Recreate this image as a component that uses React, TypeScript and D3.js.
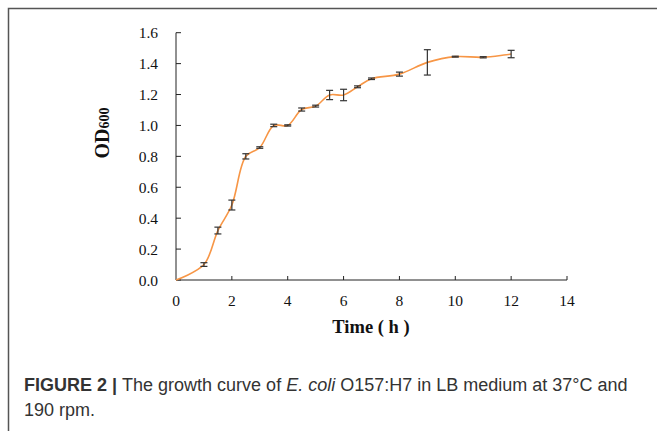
import * as d3 from "d3";

// growth curve readings
const timeH = [0, 1, 1.5, 2, 2.5, 3, 3.5, 4, 4.5, 5, 5.5, 6, 6.5, 7, 8, 9, 10, 11, 12];
const od600 = [
  0, 0.1, 0.32, 0.485, 0.8, 0.857, 1.0, 1.0, 1.103, 1.125, 1.197, 1.197, 1.25, 1.302,
  1.332, 1.408, 1.445, 1.441, 1.462,
];
const sd = [
  0, 0.012, 0.022, 0.032, 0.017, 0.005, 0.008, 0.004, 0.01, 0.006, 0.03, 0.037, 0.006,
  0.005, 0.013, 0.082, 0.003, 0.004, 0.024,
];
const xTicks = [0, 2, 4, 6, 8, 10, 12, 14];
const yTicks = [0, 0.2, 0.4, 0.6, 0.8, 1.0, 1.2, 1.4, 1.6];

const W = 657;
const H = 431;

export default function App() {
  const x = d3.scaleLinear().domain([0, 14]).range([176, 567]);
  const y = d3.scaleLinear().domain([0, 1.6]).range([280, 32.7]);

  const pts = timeH.map((t, i) => ({ t, v: od600[i], e: sd[i] }));
  const line = d3
    .line<{ t: number; v: number }>()
    .x((d) => x(d.t))
    .y((d) => y(d.v))
    .curve(d3.curveCatmullRom.alpha(0.5));

  const serif = "'Liberation Serif', 'Times New Roman', serif";
  const sans = "'Liberation Sans', Arial, sans-serif";

  return (
    <svg
      width={W}
      height={H}
      style={{ position: "absolute", left: 0, top: 0, background: "#fff" }}
    >
      {/* frame */}
      <path d={`M8.5,${H} V8.5 H${W}`} fill="none" stroke="#555" strokeWidth={1.5} />

      {/* y axis */}
      <line x1={x(0)} x2={x(0)} y1={y(0)} y2={y(1.6)} stroke="#222" strokeWidth={1} />
      {yTicks.map((t) => (
        <g key={"y" + t}>
          <line x1={x(0)} x2={x(0) + 5} y1={y(t)} y2={y(t)} stroke="#222" strokeWidth={1} />
          <text
            x={158}
            y={y(t) + 5.5}
            textAnchor="end"
            fontFamily={serif}
            fontSize={15.5}
            fill="#111"
          >
            {t.toFixed(1)}
          </text>
        </g>
      ))}

      {/* x axis */}
      <line x1={x(0)} x2={x(14)} y1={y(0)} y2={y(0)} stroke="#222" strokeWidth={1} />
      {xTicks.map((t) => (
        <g key={"x" + t}>
          {t > 0 && (
            <line x1={x(t)} x2={x(t)} y1={y(0)} y2={y(0) - 4} stroke="#222" strokeWidth={1} />
          )}
          <text
            x={x(t)}
            y={305.5}
            textAnchor="middle"
            fontFamily={serif}
            fontSize={15.5}
            fill="#111"
          >
            {t}
          </text>
        </g>
      ))}

      <text
        x={371}
        y={332.5}
        textAnchor="middle"
        fontFamily={serif}
        fontWeight="bold"
        fontSize={18.5}
        fill="#111"
      >
        Time ( h )
      </text>
      <text
        transform="translate(109,133) rotate(-90)"
        textAnchor="middle"
        fontFamily={serif}
        fontWeight="bold"
        fontSize={20}
        fill="#111"
      >
        OD<tspan fontSize={14}>600</tspan>
      </text>

      {/* curve */}
      <path d={line(pts) ?? ""} fill="none" stroke="#F79646" strokeWidth={1.6} />

      {/* error bars */}
      {pts
        .filter((d) => d.e > 0)
        .map((d) => {
          const cx = x(d.t);
          const y1 = y(d.v + d.e);
          const y2 = y(d.v - d.e);
          return (
            <g key={"e" + d.t} stroke="#333" strokeWidth={1.2}>
              <line x1={cx} x2={cx} y1={y1} y2={y2} />
              <line x1={cx - 3.5} x2={cx + 3.5} y1={y1} y2={y1} />
              <line x1={cx - 3.5} x2={cx + 3.5} y1={y2} y2={y2} />
            </g>
          );
        })}

      {/* caption */}
      <text x={24} y={391} fontFamily={sans} fontSize={18} fill="#333">
        <tspan fontWeight="bold">FIGURE 2 | </tspan>
        <tspan>The growth curve of </tspan>
        <tspan fontStyle="italic">E. coli</tspan>
        <tspan> O157:H7 in LB medium at 37°C and</tspan>
      </text>
      <text x={24} y={416} fontFamily={sans} fontSize={18} fill="#333">
        190 rpm.
      </text>
    </svg>
  );
}
